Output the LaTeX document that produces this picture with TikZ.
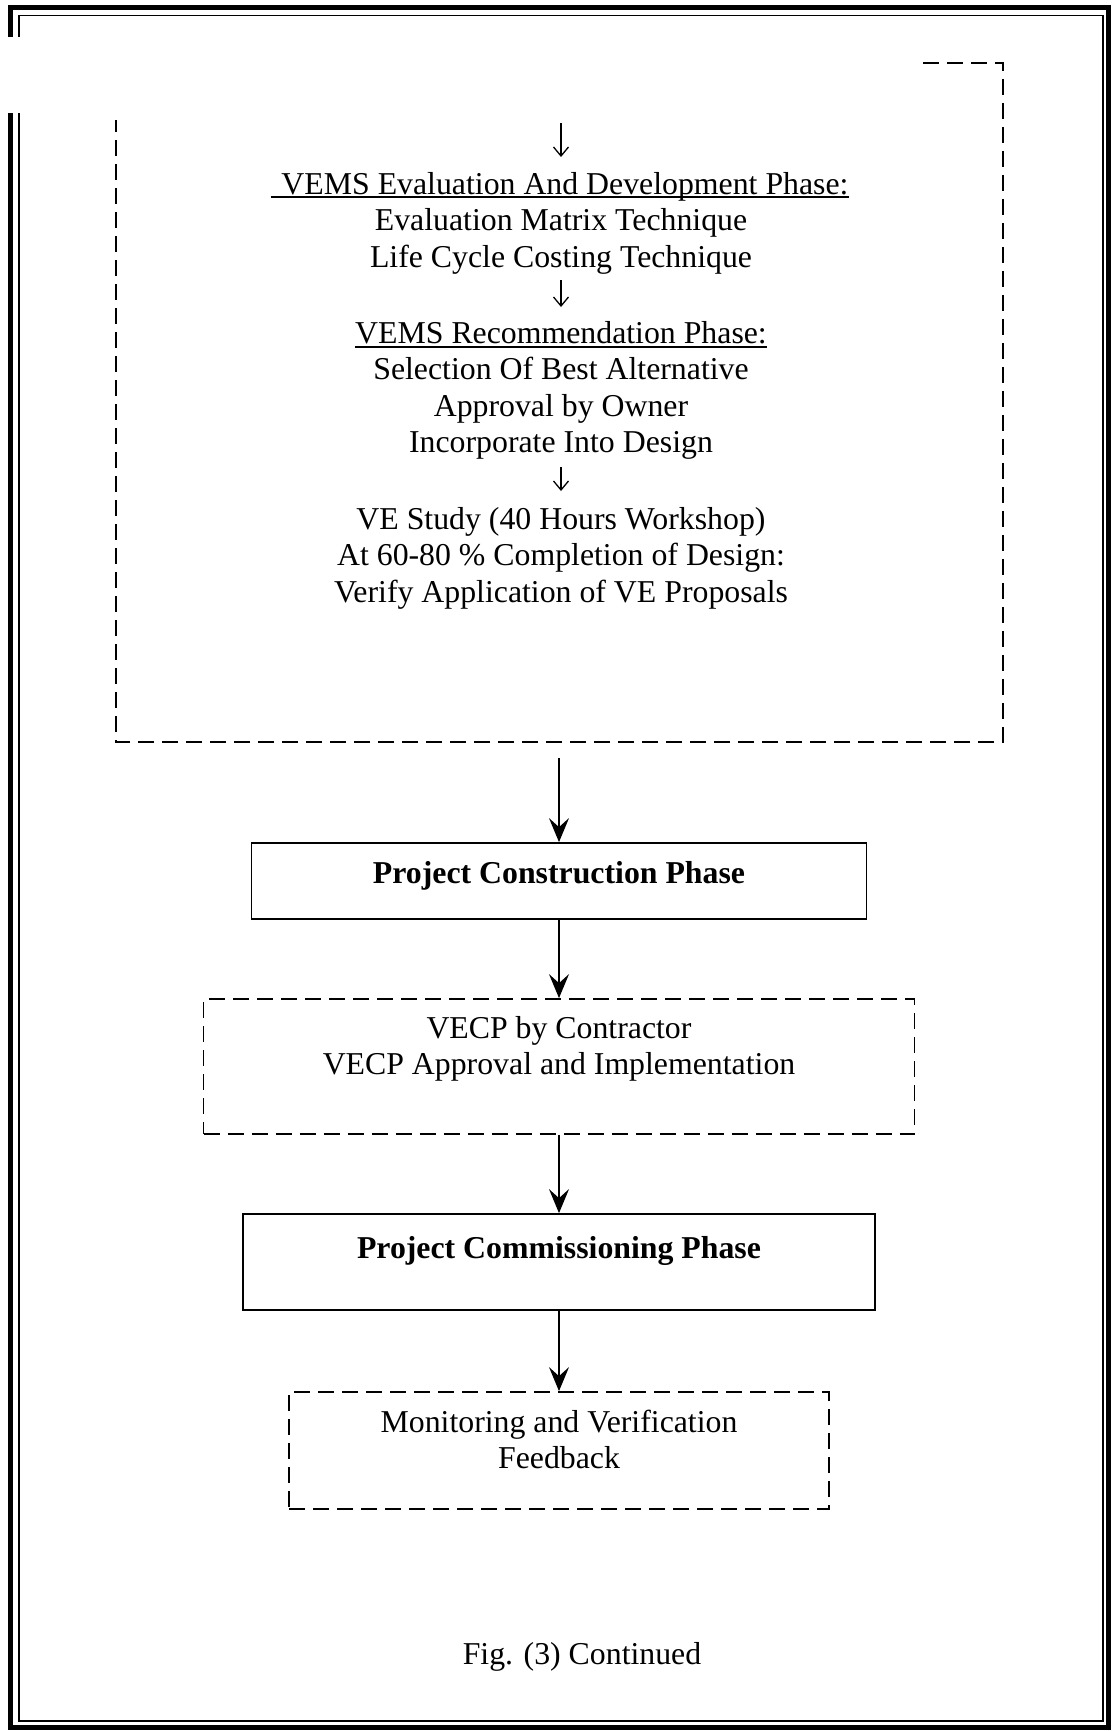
\documentclass[tikz,border=0pt]{standalone}
\usepackage{fontspec}
\setmainfont{Liberation Serif}
\usetikzlibrary{arrows.meta}
\begin{document}
\begin{tikzpicture}[x=1pt,y=-1pt,
  textfont/.style={font=\fontsize{31.8}{36.6}\selectfont},
  boldfont/.style={font=\fontsize{31.8}{36.6}\selectfont\bfseries},
  every node/.style={textfont, inner sep=0pt},
  txt/.style={anchor=base},
  sbox/.style={draw, line width=1.8pt, inner sep=0pt, text height=22pt},
  dbox/.style={draw, line width=1.8pt, dash pattern=on 16pt off 8pt, inner sep=0pt, text height=22pt},
  bigarrow/.style={line width=1.6pt, -{Stealth[length=24pt,width=20pt,inset=9pt]}},
  smallarrow/.style={line width=1.3pt, -{Straight Barb[length=9pt,width=15pt]}},
  uline/.style={line width=1.8pt},
  dline/.style={line width=1.8pt, dash pattern=on 16pt off 8pt}
]
\useasboundingbox (0,0) rectangle (1111,1731);
% page frame (double line, broken at upper left)
\draw[line width=5pt, line join=miter] (10,37) -- (10,7.5) -- (1108,7.5) -- (1108,1727) -- (10,1727) -- (10,113);
\draw[line width=1.5pt, line join=miter] (19,37) -- (19,15.5) -- (1103,15.5) -- (1103,1721) -- (19,1721) -- (19,113);
% large dashed frame (cut at top)
\draw[dline] (923,63) -- (1003,63) -- (1003,742) -- (116,742) -- (116,120);

% texts inside the large dashed frame
\node[txt] (evh) at (565,194) {VEMS Evaluation And Development Phase:};
\draw[uline] ([xshift=-10pt,yshift=-3pt]evh.base west) -- ([yshift=-3pt]evh.base east);
\node[txt] (ev1) at (561,230.6) {Evaluation Matrix Technique};
\node[txt] (ev2) at (561,267.2) {Life Cycle Costing Technique};
\node[txt] (rch) at (561,343) {VEMS Recommendation Phase:};
\draw[uline] ([yshift=-4pt]rch.base west) -- ([yshift=-4pt]rch.base east);
\node[txt] (rc1) at (561,379.6) {Selection Of Best Alternative};
\node[txt] (rc2) at (561,416.2) {Approval by Owner};
\node[txt] (rc3) at (561,452.8) {Incorporate Into Design};
\node[txt] (ve1) at (561,529) {VE Study (40 Hours Workshop)};
\node[txt] (ve2) at (561,565.6) {At 60-80 \% Completion of Design:};
\node[txt] (ve3) at (561,602.2) {Verify Application of VE Proposals};

% small arrows
\coordinate (a1s) at (561,123); \coordinate (a1e) at (561,157);
\coordinate (a2s) at (561,280); \coordinate (a2e) at (561,307);
\coordinate (a3s) at (561,467); \coordinate (a3e) at (561,491);
\draw[smallarrow] (a1s) -- (a1e);
\draw[smallarrow] (a2s) -- (a2e);
\draw[smallarrow] (a3s) -- (a3e);

% lower chain
\coordinate (dbot) at (559,758);
\node[sbox, boldfont, minimum width=615pt, minimum height=76pt, text depth=18pt] (cons) at (559,881) {Project Construction Phase};
\node[dbox, minimum width=711pt, minimum height=135pt, text depth=79pt] (vecp) at (559,1066.5)
  {\begin{tabular}[t]{@{}c@{}}VECP by Contractor\\VECP Approval and Implementation\end{tabular}};
\node[sbox, boldfont, minimum width=632pt, minimum height=96pt, text depth=30pt] (comm) at (559,1262) {Project Commissioning Phase};
\node[dbox, minimum width=540pt, minimum height=117pt, text depth=59pt] (mon) at (559,1450.5)
  {\begin{tabular}[t]{@{}c@{}}Monitoring and Verification\\Feedback\end{tabular}};

\draw[bigarrow] (dbot) -- (cons.north);
\draw[bigarrow] (cons.south) -- (vecp.north);
\draw[bigarrow] (vecp.south) -- (comm.north);
\draw[bigarrow] (comm.south) -- (mon.north);

\node[txt] (cap) at (582,1664) {Fig. (3) Continued};
\end{tikzpicture}
\end{document}
